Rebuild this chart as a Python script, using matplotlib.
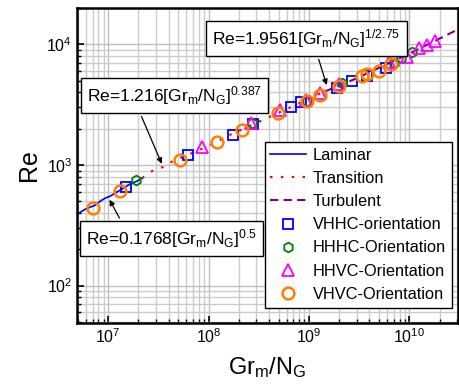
import matplotlib
matplotlib.use("Agg")
import matplotlib.pyplot as plt

plt.rcParams['font.family'] = ['Liberation Sans', 'DejaVu Sans']
plt.rcParams['mathtext.default'] = 'regular'

# measured points, Gr_m/N_G vs Re
vhhc_x = [1.51e7, 6.22e7, 1.74e8, 2.75e8, 6.56e8, 8.26e8, 1.92e9, 2.71e9, 3.82e9, 5.90e9]
vhhc_y = [656, 1211, 1780, 2200, 3040, 3350, 4380, 5010, 5520, 6430]

hhhc_x = [1.90e7, 2.69e8, 9.46e8, 2.11e9, 7.08e9, 8.32e9, 1.07e10]
hhhc_y = [750, 2240, 3410, 4820, 7080, 7790, 8580]

hhvc_x = [8.58e7, 2.63e8, 5.11e8, 9.25e8, 1.30e9, 2.01e9, 6.31e9, 9.53e9, 1.25e10, 1.51e10, 1.81e10]
hhvc_y = [1413, 2240, 2870, 3480, 3980, 4730, 7220, 7940, 9260, 9810, 10590]

vhvc_x = [7.10e6, 1.32e7, 5.19e7, 1.21e8, 2.14e8, 4.88e8, 9.46e8, 1.30e9, 1.97e9,
          3.41e9, 3.82e9, 5.02e9, 6.61e9]
vhvc_y = [438, 607, 1101, 1555, 1960, 2710, 3410, 3830, 4550, 5520, 5730, 6070, 6950]

# correlation curves
lam_x = [4.92e6, 5.91e6, 6.62e6, 7.43e6, 8.33e6, 9.34e6, 1.05e7, 1.17e7, 1.32e7,
         1.48e7, 1.65e7, 1.94e7, 2.18e7]
lam_y = [391, 430, 447, 464, 501, 531, 552, 585, 619, 656, 695, 735, 779]

tra_x = [2.18e7, 2.74e7, 3.52e7, 4.42e7, 7.31e7, 1.21e8, 1.555e8, 2.7e8, 6.5e8, 1.43e9]
tra_y = [779, 891, 962, 1080, 1283, 1555, 1745, 2150, 3000, 4060]

tur_x = [1.43e9, 3.0e9, 1.0e10, 3.06e10]
tur_y = [4060, 5250, 8400, 13340]

fig = plt.figure(figsize=(4.59, 3.89), dpi=100)
ax = fig.add_axes([0.168, 0.170, 0.830, 0.809])

ax.plot(lam_x, lam_y, color='#0000ff', lw=1.2, label='Laminar')
ax.plot(tra_x, tra_y, color='#ff0000', lw=1.5, dashes=(1.2, 4), label='Transition')
ax.plot(tur_x, tur_y, color='#800080', lw=1.5, dashes=(4, 2.5), label='Turbulent')

ax.plot(vhhc_x, vhhc_y, 's', ms=7, mfc='none', mec='#0000ff', mew=1.3,
        label='VHHC-orientation')
ax.plot(hhhc_x, hhhc_y, 'h', ms=7, mfc='none', mec='#008000', mew=1.3,
        label='HHHC-Orientation')
ax.plot(hhvc_x, hhvc_y, '^', ms=8, mfc='none', mec='#ff00ff', mew=1.3,
        label='HHVC-Orientation')
ax.plot(vhvc_x, vhvc_y, 'o', ms=8.5, mfc='none', mec='#ff8000', mew=1.8,
        label='VHVC-Orientation')

ax.set_xscale('log')
ax.set_yscale('log')
ax.set_xlim(4.9e6, 3.06e10)
ax.set_ylim(49, 2.0e4)

ax.grid(True, which='major', color='#bebebe', lw=1.0)
ax.grid(True, which='minor', color='#cccccc', lw=1.0)
ax.set_axisbelow(True)
ax.tick_params(which='both', direction='in', labelsize=11.5)
ax.tick_params(which='major', length=5, width=1.2)
ax.tick_params(which='minor', length=3, width=1.0)
for s in ax.spines.values():
    s.set_linewidth(1.8)

ax.set_xlabel('Gr$_m$/N$_G$', fontsize=17, labelpad=6)
ax.set_ylabel('Re', fontsize=18, labelpad=4)

# correlation labels with arrows onto the curves
boxprops = dict(boxstyle='square,pad=0.35', fc='white', ec='black', lw=1.0)
arrow = dict(arrowstyle='-|>', color='black', lw=0.9, mutation_scale=8)

ax.annotate('Re=1.9561[Gr$_m$/N$_G$]$^{1/2.75}$', xy=(1.53e9, 4380), xycoords='data',
            xytext=(0.602, 0.903), textcoords='axes fraction', ha='center', va='center',
            fontsize=12.5, bbox=boxprops, arrowprops=dict(arrow, relpos=(0.55, 0)))
ax.annotate('Re=1.216[Gr$_m$/N$_G$]$^{0.387}$', xy=(3.5e7, 975), xycoords='data',
            xytext=(0.255, 0.722), textcoords='axes fraction', ha='center', va='center',
            fontsize=12.5, bbox=boxprops, arrowprops=dict(arrow, relpos=(0.29, 0)))
ax.annotate('Re=0.1768[Gr$_m$/N$_G$]$^{0.5}$', xy=(1.0e7, 540), xycoords='data',
            xytext=(0.247, 0.268), textcoords='axes fraction', ha='center', va='center',
            fontsize=12.5, bbox=boxprops, arrowprops=dict(arrow, relpos=(0.226, 1)))

leg = ax.legend(loc='upper left', bbox_to_anchor=(0.492, 0.575), borderaxespad=0,
                fontsize=11.8, fancybox=False, framealpha=1, edgecolor='black',
                labelspacing=0.5, borderpad=0.35, handlelength=2.2, handletextpad=0.4)
leg.get_frame().set_linewidth(1.0)

fig.savefig('out.png', dpi=100)
